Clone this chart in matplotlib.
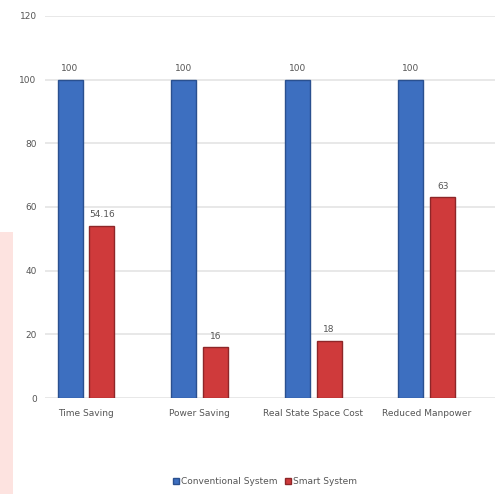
import numpy as np
import matplotlib
matplotlib.use("Agg")
import matplotlib.pyplot as plt
from matplotlib.patches import Rectangle

categories = ["Time Saving", "Power Saving", "Real State Space Cost", "Reduced Manpower"]
conventional = [100, 100, 100, 100]
smart = [54.16, 16, 18, 63]
conv_labels = ["100", "100", "100", "100"]
smart_labels = ["54.16", "16", "18", "63"]
series_names = ["Conventional System", "Smart System"]

plt.rcParams.update({"font.family": "DejaVu Sans", "font.size": 7})

fig = plt.figure(figsize=(5.0, 4.94), dpi=100)
# faint pink band on the left edge of the scan
fig.patches.append(Rectangle((0, 0), 0.026, 0.53, transform=fig.transFigure,
                             facecolor="#fde3e0", edgecolor="none", zorder=0))
ax = fig.add_axes([0.09, 0.194, 0.90, 0.774])

x = np.arange(len(categories))
w = 0.22
off = 0.14
b1 = ax.bar(x - off, conventional, w, color="#3d6fc0", edgecolor="#2a508f",
            lw=1.0, label=series_names[0], zorder=3)
b2 = ax.bar(x + off, smart, w, color="#cf3a3b", edgecolor="#8e2628",
            lw=1.0, label=series_names[1], zorder=3)
for xi, v, t in zip(x - off, conventional, conv_labels):
    ax.text(xi, v + 2, t, ha="center", va="bottom", fontsize=6.5, color="#555")
for xi, v, t in zip(x + off, smart, smart_labels):
    ax.text(xi, v + 2, t, ha="center", va="bottom", fontsize=6.5, color="#555")

ax.set_xlim(-0.36, 3.6)
ax.set_ylim(0, 120)
ax.set_yticks(range(0, 121, 20))
ax.set_xticks(x)
ax.set_xticklabels(categories, fontsize=6.5, color="#555")
ax.tick_params(axis="y", labelsize=6.5, labelcolor="#555", length=0, pad=6)
ax.tick_params(axis="x", length=0, pad=8)
ax.grid(axis="y", color="#e4e4e4", lw=1.2, zorder=0)
for s in ax.spines.values():
    s.set_visible(False)

fig.legend(handles=[b1, b2], labels=series_names, loc="center",
           bbox_to_anchor=(0.53, 0.025), ncol=2, frameon=False, fontsize=6.5,
           handlelength=0.7, handleheight=0.7, handletextpad=0.2,
           columnspacing=0.8, labelcolor="#555")

fig.savefig("out.png", dpi=100)
